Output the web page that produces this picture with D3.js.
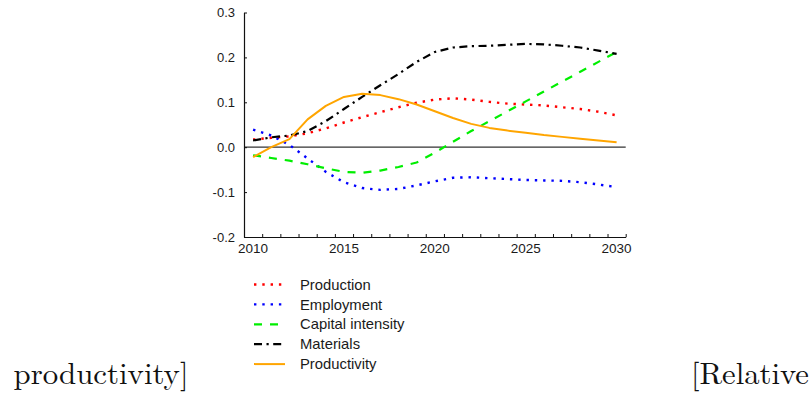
<!DOCTYPE html>
<html>
<head>
<meta charset="utf-8">
<script src="https://cdn.jsdelivr.net/npm/d3@7"></script>
<style>
  html, body { margin: 0; padding: 0; background: #fff; }
  svg { display: block; }
</style>
</head>
<body>
<svg id="chart" width="811" height="393"></svg>
<script>
// Yearly values, 2010–2030
const years = d3.range(2010, 2031);
const production = [0.017, 0.021, 0.024, 0.031, 0.042, 0.055, 0.067, 0.078, 0.089, 0.099, 0.106,
                    0.109, 0.106, 0.101, 0.097, 0.095, 0.093, 0.089, 0.085, 0.079, 0.071];
const employment = [0.039, 0.026, 0.005, -0.025, -0.055, -0.078, -0.091, -0.095, -0.093, -0.085, -0.076,
                    -0.068, -0.067, -0.069, -0.071, -0.073, -0.074, -0.075, -0.078, -0.083, -0.089];
const capitalIntensity = [-0.018, -0.024, -0.030, -0.038, -0.047, -0.055, -0.057, -0.052, -0.044, -0.034, -0.012,
                          0.012, 0.036, 0.058, 0.080, 0.102, 0.124, 0.146, 0.168, 0.190, 0.212];
const materials = [0.015, 0.022, 0.026, 0.036, 0.058, 0.085, 0.112, 0.138, 0.163, 0.190, 0.212,
                   0.222, 0.225, 0.226, 0.228, 0.230, 0.229, 0.226, 0.222, 0.215, 0.208];
const productivity = [-0.022, 0.000, 0.018, 0.062, 0.092, 0.112, 0.119, 0.116, 0.107, 0.095, 0.080,
                      0.065, 0.052, 0.043, 0.037, 0.032, 0.027, 0.023, 0.019, 0.015, 0.011];

const seriesNames = ["Production", "Employment", "Capital intensity", "Materials", "Productivity"];
const yTicks = [0.3, 0.2, 0.1, 0.0, -0.1, -0.2];
const xLabels = [2010, 2015, 2020, 2025, 2030];

const series = [
  { name: seriesNames[0], values: production,       color: "#ff0000", dash: "2.4,5.9", width: 2.4 },
  { name: seriesNames[1], values: employment,       color: "#0000ff", dash: "2.4,5.9", width: 2.4 },
  { name: seriesNames[2], values: capitalIntensity, color: "#00ee00", dash: "8,8",     width: 2.2 },
  { name: seriesNames[3], values: materials,        color: "#000000", dash: "8,4.5,2.2,4.5", width: 2.2 },
  { name: seriesNames[4], values: productivity,     color: "#ffa500", dash: null,      width: 2 }
];

const svg = d3.select("#chart");
const font = "'Liberation Sans', Arial, Helvetica, sans-serif";

const x = d3.scaleLinear().domain([2009.5, 2030.5]).range([244, 625.7]);
const y = d3.scaleLinear().domain([-0.2, 0.3]).range([237, 12.5]);

// zero reference line
svg.append("line")
  .attr("x1", x(2009.5)).attr("x2", x(2030.5))
  .attr("y1", y(0)).attr("y2", y(0))
  .attr("stroke", "#333").attr("stroke-width", 1.2);

// bottom axis: inward ticks at year boundaries
const xAxis = svg.append("g")
  .attr("transform", `translate(0,${y(-0.2)})`)
  .call(d3.axisBottom(x)
    .tickValues(d3.range(2009.5, 2031, 1))
    .tickSizeInner(-3).tickSizeOuter(0)
    .tickFormat(""));
xAxis.select(".domain").attr("stroke", "#111").attr("stroke-width", 1.2);
xAxis.selectAll(".tick line").attr("stroke", "#111");

svg.append("g").selectAll("text")
  .data(xLabels).join("text")
  .attr("x", d => x(d)).attr("y", y(-0.2) + 15.5)
  .attr("text-anchor", "middle")
  .attr("font-family", font).attr("font-size", 13.5)
  .attr("fill", "#1a1a1a")
  .text(d => d);

// left axis: inward ticks
const yAxis = svg.append("g")
  .attr("transform", `translate(${x(2009.5)},0)`)
  .call(d3.axisLeft(y)
    .tickValues(yTicks)
    .tickSizeInner(-3).tickSizeOuter(0)
    .tickPadding(9)
    .tickFormat(d3.format(".1f")));
yAxis.select(".domain").attr("stroke", "#111").attr("stroke-width", 1.2);
yAxis.selectAll(".tick line").attr("stroke", "#111");
yAxis.selectAll(".tick text")
  .attr("font-family", font).attr("font-size", 13).attr("fill", "#1a1a1a")
  .text(d => d3.format(".1f")(d).replace("−", "-"));

// series lines
const line = d3.line()
  .x((d, i) => x(years[i]))
  .y(d => y(d));

svg.append("g").selectAll("path")
  .data(series).join("path")
  .attr("d", d => line(d.values))
  .attr("fill", "none")
  .attr("stroke", d => d.color)
  .attr("stroke-width", d => d.width)
  .attr("stroke-dasharray", d => d.dash)
  .attr("stroke-linejoin", "round");

// legend
const legend = svg.append("g").selectAll("g")
  .data(series).join("g")
  .attr("transform", (d, i) => `translate(254,${284.5 + i * 19.9})`);

legend.append("line")
  .attr("x1", 0).attr("x2", 31)
  .attr("y1", 0).attr("y2", 0)
  .attr("stroke", d => d.color)
  .attr("stroke-width", d => d.width)
  .attr("stroke-dasharray", d => d.dash);

legend.append("text")
  .attr("x", 46).attr("y", 0)
  .attr("dy", "0.35em")
  .attr("font-family", font).attr("font-size", 14.8)
  .attr("fill", "#1a1a1a")
  .text(d => d.name);

// surrounding caption fragments
const serif = "'Latin Modern Roman', 'CMU Serif', 'Liberation Serif', 'Times New Roman', serif";
svg.append("text")
  .attr("x", 13.5).attr("y", 384)
  .attr("font-family", serif).attr("font-size", 30)
  .attr("textLength", 175).attr("lengthAdjust", "spacingAndGlyphs")
  .attr("fill", "#111")
  .text("productivity]");
svg.append("text")
  .attr("x", 691).attr("y", 384)
  .attr("font-family", serif).attr("font-size", 30)
  .attr("textLength", 118).attr("lengthAdjust", "spacingAndGlyphs")
  .attr("fill", "#111")
  .text("[Relative");
</script>
</body>
</html>
